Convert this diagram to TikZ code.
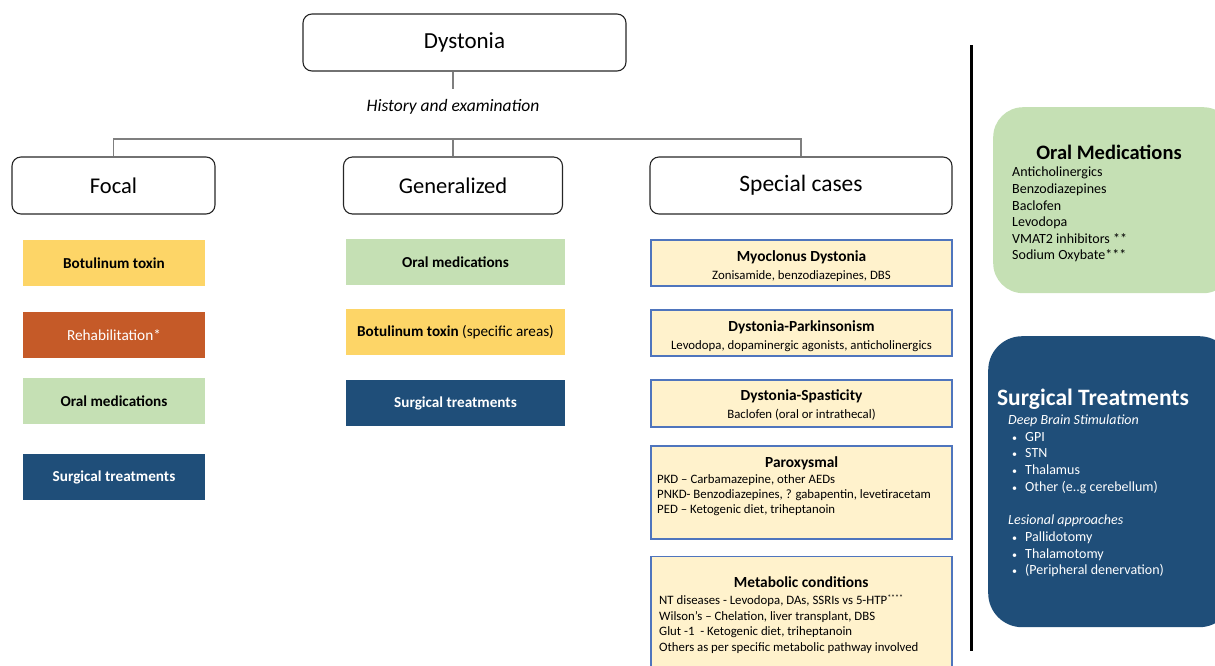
\documentclass[tikz,border=0pt]{standalone}
\usepackage{fontspec}
\setmainfont{Carlito}
\definecolor{cyel}{HTML}{FDD567}
\definecolor{corg}{HTML}{C55A28}
\definecolor{cgrn}{HTML}{C5E0B4}
\definecolor{cnavy}{HTML}{1F4E79}
\definecolor{clight}{HTML}{FFF2CC}
\definecolor{cbord}{HTML}{4F75BD}
\definecolor{cline}{HTML}{7F7F7F}
\newcommand{\smbul}{\makebox[17pt][l]{\hspace{4pt}{\fontsize{10}{10}\selectfont •}}}
\begin{document}
\begin{tikzpicture}[x=1pt,y=-1pt,
  catbox/.style={draw=black!85, line width=1.1pt, rounded corners=9pt, minimum height=57pt, font=\fontsize{22.5}{26}\selectfont},
  treat/.style={minimum width=182pt, minimum height=46pt, inner sep=0pt, font=\bfseries\fontsize{15.2}{18}\selectfont},
  sbox/.style={draw=cbord, line width=1.4pt, fill=clight, minimum width=301pt, inner sep=0pt},
  stext/.style={align=center, inner sep=0pt},
  sbody/.style={font=\fontsize{12.8}{15}\selectfont},
  conn/.style={draw=cline, line width=1.1pt}
]
\useasboundingbox (0,0) rectangle (1215,665);
\clip (0,0) rectangle (1215,665);

% top
\node[catbox, minimum width=323pt, font=\fontsize{23}{26}\selectfont] (dyst) at (464.5,42.5) {Dystonia};
\coordinate (bus) at (453,139);
\node[font=\itshape\fontsize{17.5}{20}\selectfont] (hist) at (453,107) {History and examination};

\node[catbox, minimum width=203pt] (focal) at (113.5,185.5) {Focal};
\node[catbox, minimum width=219pt] (gen) at (453,185.5) {Generalized};
\node[catbox, minimum width=302pt, font=\fontsize{23.5}{26}\selectfont] (spec) at (801,185.5) {Special cases};

\draw[conn] (dyst.south -| bus) -- ++(0,17);
\draw[conn] (focal.north) -- (focal.north |- bus) -- (spec.north |- bus) -- (spec.north);
\draw[conn] (bus) -- (gen.north);

% focal column
\node[treat, fill=cyel] (f1) at (114,263) {Botulinum toxin};
\node[treat, fill=corg, text=white, font=\fontsize{15.3}{18}\selectfont] (f2) at (114,335) {Rehabilitation*};
\node[treat, fill=cgrn] (f3) at (114,401) {Oral medications};
\node[treat, fill=cnavy, text=white] (f4) at (114,477) {Surgical treatments};

% generalized column
\node[treat, fill=cgrn, minimum width=219pt] (g1) at (455.5,262) {Oral medications};
\node[treat, fill=cyel, minimum width=219pt] (g2) at (455.5,332) {Botulinum toxin \mdseries(specific areas)};
\node[treat, fill=cnavy, text=white, minimum width=219pt] (g3) at (455.5,403) {Surgical treatments};

% special cases
\node[sbox, minimum height=46pt] (s1) at (801.5,263) {};
\node[stext] (s1t) at ([yshift=-3pt]s1.center)
  {{\bfseries\fontsize{15.4}{17}\selectfont Myoclonus Dystonia}\\[6pt]{\fontsize{12.8}{15}\selectfont Zonisamide, benzodiazepines, DBS}};
\node[sbox, minimum height=46pt] (s2) at (801.5,333) {};
\node[stext] (s2t) at ([yshift=-3pt]s2.center)
  {{\bfseries\fontsize{15.4}{17}\selectfont Dystonia-Parkinsonism}\\[6pt]{\fontsize{12.8}{15}\selectfont Levodopa, dopaminergic agonists, anticholinergics}};
\node[sbox, minimum height=47pt] (s3) at (801.5,403.5) {};
\node[stext] (s3t) at ([yshift=-1pt]s3.center)
  {{\bfseries\fontsize{15.4}{17}\selectfont Dystonia-Spasticity}\\[6pt]{\fontsize{12.8}{15}\selectfont Baclofen (oral or intrathecal)}};
\node[sbox, minimum height=93pt] (s4) at (801.5,492.5) {};
\node[anchor=north west, sbody, align=left, inner sep=0pt] (s4t) at (657,456)
  {\makebox[289pt][c]{\bfseries\fontsize{15.4}{17}\selectfont Paroxysmal}\\[1pt]
   PKD -- Carbamazepine, other AEDs\\
   PNKD- Benzodiazepines, ? gabapentin, levetiracetam\\
   PED -- Ketogenic diet, triheptanoin};
\node[sbox, minimum height=125pt, anchor=north] (s5) at (801.5,555.5) {};
\node[anchor=north west, align=left, inner sep=0pt, font=\fontsize{12.8}{15.5}\selectfont] (s5t) at (659,576)
  {\makebox[284pt][c]{\bfseries\fontsize{15.4}{17}\selectfont Metabolic conditions}\\[2pt]
   NT diseases - Levodopa, DAs, SSRIs vs 5-HTP\textsuperscript{\fontsize{8}{8}\selectfont ****}\\
   Wilson's -- Chelation, liver transplant, DBS\\
   Glut -1\ \ - Ketogenic diet, triheptanoin\\
   Others as per specific metabolic pathway involved};

% divider
\coordinate (dtop) at (971,45);
\coordinate (dbot) at (971,651);
\draw[line width=3pt, black] (dtop) -- (dbot);

% right panel
\node[fill=cgrn, rounded corners=30pt, minimum width=240pt, minimum height=186pt, anchor=north west] (oral) at (993,107) {};
\node[font=\bfseries\fontsize{20.5}{22}\selectfont, anchor=center] (oralt) at (1109,152) {Oral Medications};
\node[anchor=north west, align=left, inner sep=0pt, font=\fontsize{14}{16.6}\selectfont] (orall) at (1012,167)
  {Anticholinergics\\Benzodiazepines\\Baclofen\\Levodopa\\VMAT2 inhibitors **\\Sodium Oxybate***};

\node[fill=cnavy, rounded corners=34pt, minimum width=245pt, minimum height=291pt, anchor=north west] (surg) at (988,336) {};
\node[font=\bfseries\fontsize{23.5}{26}\selectfont, text=white] (surgt) at (1093,399) {Surgical Treatments};
\node[anchor=north west, align=left, inner sep=0pt, text=white, font=\fontsize{14}{16.7}\selectfont] (surgl) at (1008,414.5)
  {\textit{Deep Brain Stimulation}\\
   \smbul GPI\\
   \smbul STN\\
   \smbul Thalamus\\
   \smbul Other (e..g cerebellum)\\[16.7pt]
   \textit{Lesional approaches}\\
   \smbul Pallidotomy\\
   \smbul Thalamotomy\\
   \smbul (Peripheral denervation)};
\end{tikzpicture}
\end{document}
